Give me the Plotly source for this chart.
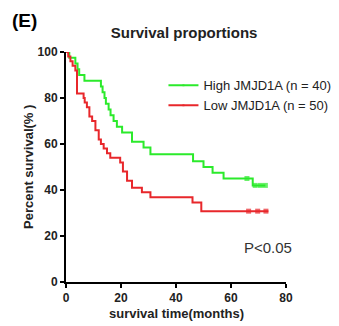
import plotly.graph_objects as go

# High JMJD1A (n = 40): step times (months) and survival (%)
high_t = [0, 1.2, 3.4, 4.2, 4.8, 6.7, 12.7, 13.3, 14.0, 14.5, 15.5, 16.2, 17.3, 18.5, 20.4, 24.0, 28.2, 30.7, 46.2, 50.0, 53.3, 57.3, 65.8, 67.9, 68.8, 70.7, 72.5]
high_s = [100, 97.5, 95, 92.5, 90, 87.5, 85, 82.5, 80, 77.5, 75, 72.5, 70, 67.5, 65, 61, 58.5, 55.5, 52.5, 50, 47.5, 45, 45, 42, 42, 42, 42]
high_cens = [0]*22 + [1, 0, 1, 1, 1]

# Low JMJD1A (n = 50)
low_t = [0, 0.8, 1.6, 2.4, 3.4, 4.0, 6.4, 6.8, 7.6, 8.5, 9.5, 10.7, 11.9, 12.7, 13.7, 14.9, 16.1, 19.7, 20.7, 22.2, 24.0, 27.6, 30.7, 46.0, 49.2, 66.4, 69.7, 72.7, 73.6]
low_s = [100, 98, 96, 94, 92, 82, 80, 78, 76, 72, 70, 66, 62, 60, 58, 56, 54, 52, 48, 44, 41, 39, 36.8, 34.6, 30.8, 30.8, 30.8, 30.8, 30.8]
low_cens = [0]*25 + [1, 1, 1, 0]

green = "#2bea2b"
red = "#e8272b"

fig = go.Figure()
for name, t, s, c, col in [("High JMJD1A (n = 40)", high_t, high_s, high_cens, green),
                           ("Low JMJD1A (n = 50)", low_t, low_s, low_cens, red)]:
    fig.add_trace(go.Scatter(
        x=t, y=s, mode="lines+markers", name=name,
        line=dict(color=col, width=2, shape="hv"),
        marker=dict(symbol="square", size=[5 if v else 0 for v in c], color=col,
                    line=dict(width=0)),
    ))

fig.update_layout(
    width=339, height=326,
    margin=dict(l=66, r=53, t=52, b=44, autoexpand=False),
    paper_bgcolor="white", plot_bgcolor="white",
    font=dict(family="Liberation Sans, Arial, sans-serif", color="black"),
    title=dict(text="<b>Survival proportions</b>", x=0.543, xanchor="center", y=0.899, yanchor="middle",
               font=dict(size=15, color="#222")),
    showlegend=True,
    legend=dict(x=0.443, y=0.92, xanchor="left", yanchor="top", bgcolor="rgba(0,0,0,0)",
                font=dict(size=13, color="#222"), itemwidth=30, tracegroupgap=0),
    xaxis=dict(range=[0, 80], tickvals=[0, 20, 40, 60, 80], showgrid=False, zeroline=False,
               showline=True, linecolor="black", linewidth=2, ticks="outside", ticklen=4,
               tickwidth=2, tickcolor="black", tickfont=dict(size=12, color="#222", weight="bold"),
               automargin=False),
    yaxis=dict(range=[0, 100], tickvals=[0, 20, 40, 60, 80, 100], showgrid=False, zeroline=False,
               showline=True, linecolor="black", linewidth=2, ticks="outside", ticklen=4,
               tickwidth=2, tickcolor="black", tickfont=dict(size=12, color="#222", weight="bold"),
               automargin=False),
)
fig.add_annotation(text="<b>(E)</b>", xref="paper", yref="paper", x=-0.255, y=1.139,
                   xanchor="left", yanchor="middle", showarrow=False,
                   font=dict(size=19, color="black"))
fig.add_annotation(text="<b>Percent survival(% )</b>", xref="paper", yref="paper", x=-0.173, y=0.5,
                   textangle=-90, xanchor="center", yanchor="middle", showarrow=False,
                   font=dict(size=13, color="#222"))
fig.add_annotation(text="<b>survival time(months)</b>", xref="paper", yref="paper", x=0.5, y=-0.135,
                   xanchor="center", yanchor="middle", showarrow=False,
                   font=dict(size=13, color="#222"))
fig.add_annotation(text="P<0.05", xref="x", yref="y", x=64, y=15,
                   xanchor="left", yanchor="middle", showarrow=False,
                   font=dict(size=15, color="#333"))
fig.write_html("out.html", config={"displayModeBar": False},
               post_script="document.body.style.margin='0';document.body.style.overflow='hidden';")
